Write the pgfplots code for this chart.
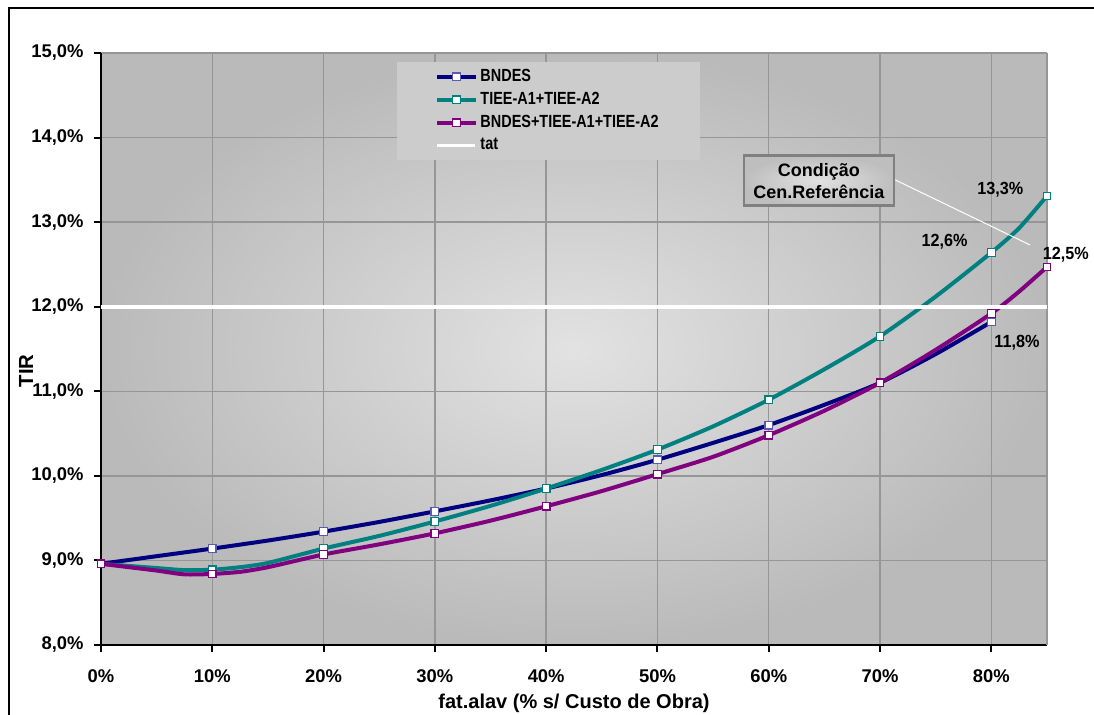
\documentclass[border=0pt]{standalone}
\usepackage{fontspec}
\setmainfont{Liberation Sans}
\newfontfamily\legfont{Liberation Sans}[FakeStretch=0.82]
\newfontfamily\labfont{Liberation Sans}[FakeStretch=0.92]
\usepackage{pgfplots}
\pgfplotsset{compat=1.18}
\definecolor{bnd}{RGB}{0,0,128}
\definecolor{bndm}{RGB}{90,90,180}
\definecolor{tiee}{RGB}{0,128,128}
\definecolor{purp}{RGB}{128,0,128}
\definecolor{gridg}{RGB}{150,150,150}
\definecolor{bgin}{RGB}{226,226,226}
\definecolor{bgout}{RGB}{186,186,186}
\definecolor{legbg}{RGB}{204,204,204}
\definecolor{boxin}{RGB}{225,225,225}
\definecolor{boxout}{RGB}{190,190,190}
\begin{document}
\bfseries\fontsize{9.2pt}{11pt}\selectfont
\begin{tikzpicture}
\useasboundingbox (0,0) rectangle (547pt,357.5pt);
\fill[white] (0,0) rectangle (547pt,357.5pt);
\draw[black, line width=0.6pt] (4.5pt,-5pt) -- (4.5pt,353.5pt) -- (552pt,353.5pt);
\begin{axis}[
  at={(50.5pt,35pt)}, anchor=south west,
  scale only axis, width=473pt, height=296pt,
  xmin=0, xmax=85, ymin=8, ymax=15,
  xtick={0,10,20,30,40,50,60,70,80},
  xticklabels={0\%,10\%,20\%,30\%,40\%,50\%,60\%,70\%,80\%},
  ytick={8,9,10,11,12,13,14,15},
  yticklabels={{8,0\%},{9,0\%},{10,0\%},{11,0\%},{12,0\%},{13,0\%},{14,0\%},{15,0\%}},
  axis x line*=bottom, axis y line*=left,
  axis line style={black, line width=1pt},
  grid=major, major grid style={gridg, line width=0.7pt},
  tick align=outside, major tick length=3.5pt,
  tick style={black, line width=1pt},
  axis background/.style={inner color=bgin, outer color=bgout},
  clip=false,
  xlabel={fat.alav (\% s/ Custo de Obra)}, ylabel={TIR},
  every axis x label/.style={at={(axis description cs:0.5,-0.098)}, anchor=center, font=\bfseries\fontsize{10pt}{12pt}\selectfont},
  every axis y label/.style={at={(axis description cs:-0.0793,0.463)}, anchor=center, rotate=90, font=\bfseries\fontsize{10.2pt}{12pt}\selectfont},
  xticklabel style={yshift=-5.5pt},
  yticklabel style={xshift=-2pt},
  legend style={at={(axis description cs:0.313,0.985)}, anchor=north west,
    fill=legbg, draw=none, inner xsep=19pt, inner ysep=2pt, row sep=1pt,
    nodes={inner sep=1.5pt}, font=\legfont\bfseries\fontsize{8.8pt}{10.5pt}\selectfont},
  legend cell align=left,
  legend image code/.code={\draw[mark repeat=2,mark phase=2,#1] plot coordinates {(0pt,0pt) (9.5pt,0pt) (19pt,0pt)};},
  legend image post style={mark indices={2}},
]
\draw[gridg, line width=0.7pt] (rel axis cs:1,0) -- (rel axis cs:1,1);

\addplot[bnd, line width=2pt, smooth, tension=0.4, mark=square*, mark indices={1,3,5,7,9,11,13,15,17},
  mark options={solid, fill=white, draw=bndm, line width=0.6pt}, mark size=1.9pt]
  coordinates {(0,8.96)(5,9.05)(10,9.14)(15,9.235)(20,9.34)(25,9.455)(30,9.58)(35,9.71)(40,9.85)(45,10.01)(50,10.19)(55,10.39)(60,10.60)(65,10.84)(70,11.10)(75,11.44)(80,11.82)};
\addlegendentry{BNDES}

\addplot[tiee, line width=2pt, smooth, tension=0.4, mark=square*, mark indices={1,5,8,10,12,14,16,18,20,22},
  mark options={solid, fill=white, draw=tiee, line width=0.6pt}, mark size=1.9pt]
  coordinates {(0,8.96)(2.5,8.935)(5,8.91)(7.5,8.885)(10,8.89)(12.5,8.92)(15,8.97)(20,9.14)(25,9.29)(30,9.46)(35,9.645)(40,9.85)(45,10.07)(50,10.31)(55,10.585)(60,10.90)(65,11.26)(70,11.65)(75,12.12)(80,12.64)(82.5,12.93)(85,13.31)};
\addlegendentry{TIEE-A1+TIEE-A2}

\addplot[purp, line width=2pt, smooth, tension=0.4, mark=square*, mark indices={1,5,8,10,12,14,16,18,20,22},
  mark options={solid, fill=white, draw=purp, line width=0.6pt}, mark size=1.9pt]
  coordinates {(0,8.96)(2.5,8.92)(5,8.88)(7.5,8.835)(10,8.84)(12.5,8.865)(15,8.92)(20,9.07)(25,9.19)(30,9.32)(35,9.47)(40,9.64)(45,9.82)(50,10.02)(55,10.225)(60,10.48)(65,10.77)(70,11.10)(75,11.49)(80,11.92)(82.5,12.18)(85,12.47)};
\addlegendentry{BNDES+TIEE-A1+TIEE-A2}

\addplot[white, line width=1.8pt] coordinates {(0,12)(85,12)};
\addlegendentry{tat}

\node[font=\labfont\bfseries\fontsize{8.8pt}{10.5pt}\selectfont] at (axis cs:80.8,13.38) {13,3\%};
\node[font=\labfont\bfseries\fontsize{8.8pt}{10.5pt}\selectfont] at (axis cs:75.8,12.77) {12,6\%};
\node[font=\labfont\bfseries\fontsize{8.8pt}{10.5pt}\selectfont] at (axis cs:86.7,12.61) {12,5\%};
\node[font=\labfont\bfseries\fontsize{8.8pt}{10.5pt}\selectfont] at (axis cs:82.3,11.58) {11,8\%};

\draw[white, line width=0.5pt] (axis cs:71.35,13.50) -- (axis cs:83.48,12.73);
\node[draw=gray, line width=1.2pt, inner color=boxin, outer color=boxout, align=center,
  minimum width=75pt, minimum height=25pt, inner sep=2pt, font=\bfseries\fontsize{9pt}{11pt}\selectfont] at (axis cs:64.5,13.49) {Condição\\Cen.Referência};
\end{axis}
\end{tikzpicture}
\end{document}
